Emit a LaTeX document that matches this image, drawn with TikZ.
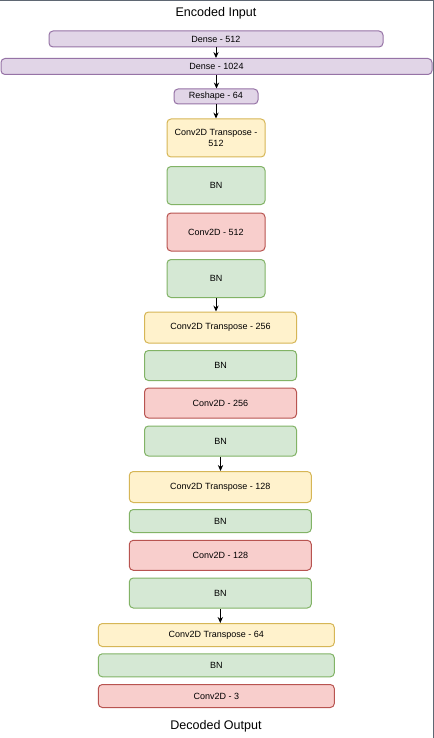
\documentclass[tikz,border=0pt]{standalone}
\usepackage{fontspec}
\setmainfont{Liberation Sans}
\usetikzlibrary{arrows.meta}
\definecolor{densefill}{HTML}{E1D5E7}
\definecolor{densedraw}{HTML}{9673A6}
\definecolor{convtfill}{HTML}{FFF2CC}
\definecolor{convtdraw}{HTML}{D6B656}
\definecolor{bnfill}{HTML}{D5E8D4}
\definecolor{bndraw}{HTML}{82B366}
\definecolor{convfill}{HTML}{F8CECC}
\definecolor{convdraw}{HTML}{B85450}
\definecolor{frameline}{RGB}{95,103,115}
\begin{document}
\begin{tikzpicture}[x=0.75pt,y=-0.75pt,
    layer/.style={draw, rounded corners=3pt, line width=0.75pt, inner sep=0pt,
      align=center, font=\fontsize{6.75}{8.5}\selectfont},
    sz/.style 2 args={minimum width=#1*0.75pt, minimum height=#2*0.75pt},
    dense/.style={layer, fill=densefill, draw=densedraw},
    convt/.style={layer, fill=convtfill, draw=convtdraw},
    bnorm/.style={layer, fill=bnfill, draw=bndraw},
    conv/.style={layer, fill=convfill, draw=convdraw},
    title/.style={font=\fontsize{9.4}{11}\selectfont},
    arr/.style={-{Stealth[length=4.5pt,width=4pt]}, line width=0.75pt}]
    \useasboundingbox (0,0) rectangle (434,738);
    \fill[white] (0,0) rectangle (434,738);

    % Eingang
    \node[title] (enc) at (216,13.5) {Encoded Input};
    \node[dense, sz={334}{16}] (d512) at (216,39) {Dense - 512};
    \node[dense, sz={431}{16}] (d1024) at (216.5,66.5) {Dense - 1024};
    \node[dense, sz={84}{15}] (resh) at (216,96.5) {Reshape - 64};

    % Block 512
    \node[convt, sz={98}{38}] (ct512) at (216,138) {Conv2D Transpose -\\512};
    \node[bnorm, sz={98}{38}] (bn1) at (216,185.5) {BN};
    \node[conv, sz={98}{38}] (c512) at (216,232) {Conv2D - 512};
    \node[bnorm, sz={98}{38}] (bn2) at (216,278.5) {BN};

    % Block 256
    \node[convt, sz={152}{31}] (ct256) at (220.5,327.5) {Conv2D Transpose - 256};
    \node[bnorm, sz={152}{30}] (bn3) at (220.5,365.5) {BN};
    \node[conv, sz={152}{30}] (c256) at (220.5,403) {Conv2D - 256};
    \node[bnorm, sz={152}{30}] (bn4) at (220.5,441) {BN};

    % Block 128
    \node[convt, sz={182}{31}] (ct128) at (220.3,487) {Conv2D Transpose - 128};
    \node[bnorm, sz={182}{23}] (bn5) at (220.3,521) {BN};
    \node[conv, sz={182}{30}] (c128) at (220.3,555.3) {Conv2D - 128};
    \node[bnorm, sz={182}{30}] (bn6) at (220.3,593) {BN};

    % Block 64
    \node[convt, sz={236}{23}] (ct64) at (216.3,635) {Conv2D Transpose - 64};
    \node[bnorm, sz={236}{23}] (bn7) at (216.3,665.3) {BN};
    \node[conv, sz={236}{23}] (c3) at (216.3,696) {Conv2D - 3};
    \node[title] (dec) at (216,726) {Decoded Output};

    % Pfeile
    \draw[arr] (d512.south) -- (d512.south |- d1024.north);
    \draw[arr] (d1024.south) -- (d1024.south |- resh.north);
    \draw[arr] (resh.south) -- (resh.south |- ct512.north);
    \draw[arr] (bn2.south) -- (bn2.south |- ct256.north);
    \draw[arr] (bn4.south) -- (bn4.south |- ct128.north);
    \draw[arr] (bn6.south) -- (bn6.south |- ct64.north);

    % Rahmen
    \draw[frameline, line width=0.75pt] (0,0.5) -- (433.5,0.5) -- (433.5,738);
\end{tikzpicture}
\end{document}
